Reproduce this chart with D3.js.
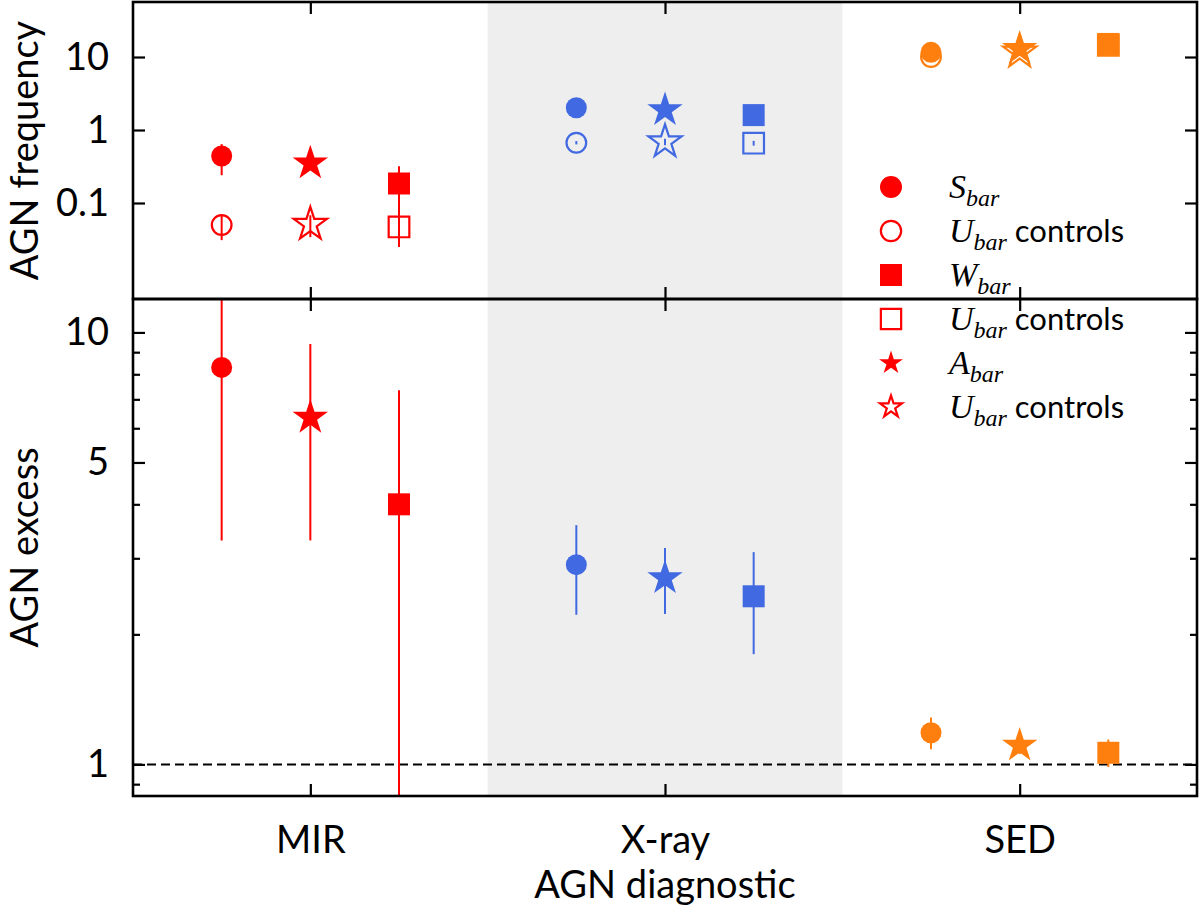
<!DOCTYPE html>
<html>
<head>
<meta charset="utf-8">
<script src="https://cdn.jsdelivr.net/npm/d3@7"></script>
<style>
  body { margin: 0; background: #fff; }
  text { font-family: Lato, "DejaVu Sans", sans-serif; fill: #000; }
</style>
</head>
<body>
<div id="chart"></div>
<script>
const W = 1200, H = 912;

// categories on the x axis
const diagnostics = ["MIR", "X-ray", "SED"];
const colors = ["#ff0000", "#4169e1", "#ff7f0e"];

// AGN frequency (top panel), barred samples (filled) and their controls (open)
const freqS = [0.44, 2.02, 11.6];
const freqSErr = [0.2, 0.15, 0.6];
const freqSCtrl = [0.05, 0.67, 10.0];
const freqSCtrlErr = [0.019, 0.035, 0.3];

const freqA = [0.35, 1.88, 13.0];
const freqAErr = [0.06, 0.15, 0.6];
const freqACtrl = [0.051, 0.69, 11.7];
const freqACtrlErr = [0.017, 0.07, 0.3];

const freqW = [0.185, 1.6, 15.1];
const freqWErr = [0.135, 0.2, 0.8];
const freqWCtrl = [0.047, 0.66, 14.5];
const freqWCtrlErr = [0.022, 0.05, 0.4];

// AGN excess (bottom panel)
const excessS = [8.3, 2.9, 1.184];
const excessSErr = [5.0, 0.68, 0.1];
const excessA = [6.35, 2.7, 1.106];
const excessAErr = [3.05, 0.47, 0.05];
const excessW = [4.0, 2.45, 1.064];
const excessWErr = [3.35, 0.65, 0.078];

const freqTicks = [0.1, 1, 10];
const excessTicks = [1, 5, 10];
const excessMinor = [0.9, 2, 3, 4, 6, 7, 8, 9];

const left = 133, right = 1197;
const top1 = 2, bot1 = 299, top2 = 299, bot2 = 796;

const x = d3.scaleLinear().domain([-0.5, 2.5]).range([left, right]);
const yTop = d3.scaleLog().domain([0.00484, 56.7]).range([bot1, top1]);
const yBot = d3.scaleLog().domain([0.845, 11.95]).range([bot2, top2]);

const svg = d3.select("#chart").append("svg")
    .attr("width", W)
    .attr("height", H);

const defs = svg.append("defs");
defs.append("clipPath").attr("id", "clipTop").append("rect")
    .attr("x", left).attr("y", top1).attr("width", right - left).attr("height", bot1 - top1);
defs.append("clipPath").attr("id", "clipBot").append("rect")
    .attr("x", left).attr("y", top2).attr("width", right - left).attr("height", bot2 - top2);

// grey band behind the X-ray column
svg.append("rect")
    .attr("x", x(0.5)).attr("y", top1)
    .attr("width", x(1.5) - x(0.5)).attr("height", bot2 - top1)
    .attr("fill", "#eeeeee");

// dashed line at excess = 1
svg.append("line")
    .attr("x1", left).attr("x2", right)
    .attr("y1", yBot(1)).attr("y2", yBot(1))
    .attr("stroke", "#000").attr("stroke-width", 2)
    .attr("stroke-dasharray", "9,5");

const shapes = {
    circle: { type: d3.symbolCircle, size: Math.PI * 10.5 * 10.5 },
    square: { type: d3.symbolSquare, size: 22 * 22 },
    star: { type: d3.symbolStar, size: 18.6 * 18.6 / 0.8908130915292852 }
};

function drawSeries(g, y, vals, errs, shape, offset, filled) {
    const pts = vals.map((v, i) => ({ v, e: errs[i], i }));
    g.selectAll(null)
        .data(pts)
        .join("line")
        .attr("x1", d => x(d.i + offset)).attr("x2", d => x(d.i + offset))
        .attr("y1", d => y(Math.max(d.v - d.e, 1e-4)))
        .attr("y2", d => y(d.v + d.e))
        .attr("stroke", d => colors[d.i])
        .attr("stroke-width", 2);
    g.selectAll(null)
        .data(pts)
        .join("path")
        .attr("d", d3.symbol().type(shapes[shape].type).size(filled ? shapes[shape].size : shapes[shape].size * 0.88))
        .attr("transform", d => `translate(${x(d.i + offset)},${y(d.v)})`)
        .attr("fill", d => filled ? colors[d.i] : "none")
        .attr("stroke", d => colors[d.i])
        .attr("stroke-width", filled ? 0 : 2.2);
}

const gTop = svg.append("g").attr("clip-path", "url(#clipTop)");
drawSeries(gTop, yTop, freqSCtrl, freqSCtrlErr, "circle", -0.25, false);
drawSeries(gTop, yTop, freqACtrl, freqACtrlErr, "star", 0, false);
drawSeries(gTop, yTop, freqWCtrl, freqWCtrlErr, "square", 0.25, false);
drawSeries(gTop, yTop, freqS, freqSErr, "circle", -0.25, true);
drawSeries(gTop, yTop, freqA, freqAErr, "star", 0, true);
drawSeries(gTop, yTop, freqW, freqWErr, "square", 0.25, true);

const gBot = svg.append("g").attr("clip-path", "url(#clipBot)");
drawSeries(gBot, yBot, excessS, excessSErr, "circle", -0.25, true);
drawSeries(gBot, yBot, excessA, excessAErr, "star", 0, true);
drawSeries(gBot, yBot, excessW, excessWErr, "square", 0.25, true);

// axes with inward ticks
function styleAxis(g) {
    g.select(".domain").remove();
    g.selectAll(".tick line").attr("stroke", "#000").attr("stroke-width", 2.2);
    g.selectAll(".tick text").style("font-size", "38px").style("font-family", "Lato, sans-serif");
}
const fmtTop = d => d < 1 ? "0.1" : String(d);

svg.append("g").attr("transform", `translate(${left},0)`)
    .call(d3.axisLeft(yTop).tickValues(freqTicks).tickFormat(fmtTop).tickSize(-12).tickPadding(24))
    .call(styleAxis);
svg.append("g").attr("transform", `translate(${right},0)`)
    .call(d3.axisRight(yTop).tickValues(freqTicks).tickFormat("").tickSize(-12))
    .call(styleAxis);

svg.append("g").attr("transform", `translate(${left},0)`)
    .call(d3.axisLeft(yBot).tickValues(excessTicks).tickFormat(d3.format("d")).tickSize(-12).tickPadding(24))
    .call(styleAxis);
svg.append("g").attr("transform", `translate(${left},0)`)
    .call(d3.axisLeft(yBot).tickValues(excessMinor).tickFormat("").tickSize(-7))
    .call(styleAxis);
svg.append("g").attr("transform", `translate(${right},0)`)
    .call(d3.axisRight(yBot).tickValues(excessTicks).tickFormat("").tickSize(-12))
    .call(styleAxis);
svg.append("g").attr("transform", `translate(${right},0)`)
    .call(d3.axisRight(yBot).tickValues(excessMinor).tickFormat("").tickSize(-7))
    .call(styleAxis);

const xIdx = [0, 1, 2];
svg.append("g").attr("transform", `translate(0,${top1})`)
    .call(d3.axisTop(x).tickValues(xIdx).tickFormat("").tickSize(-12)).call(styleAxis);
svg.append("g").attr("transform", `translate(0,${bot1})`)
    .call(d3.axisBottom(x).tickValues(xIdx).tickFormat("").tickSize(-12)).call(styleAxis);
svg.append("g").attr("transform", `translate(0,${top2})`)
    .call(d3.axisTop(x).tickValues(xIdx).tickFormat("").tickSize(-12)).call(styleAxis);
svg.append("g").attr("transform", `translate(0,${bot2})`)
    .call(d3.axisBottom(x).tickValues(xIdx).tickFormat(i => diagnostics[i]).tickSize(-12).tickPadding(30))
    .call(styleAxis);

// frames
[[top1, bot1], [top2, bot2]].forEach(([t, b]) => {
    svg.append("rect")
        .attr("x", left).attr("y", t)
        .attr("width", right - left).attr("height", b - t)
        .attr("fill", "none").attr("stroke", "#000").attr("stroke-width", 2.6);
});

// axis labels
svg.append("text")
    .attr("transform", `translate(38,${(top1 + bot1) / 2}) rotate(-90)`)
    .attr("text-anchor", "middle")
    .style("font-size", "38px")
    .text("AGN frequency");
svg.append("text")
    .attr("transform", `translate(38,${(top2 + bot2) / 2}) rotate(-90)`)
    .attr("text-anchor", "middle")
    .style("font-size", "38px")
    .text("AGN excess");
svg.append("text")
    .attr("x", x(1)).attr("y", 898)
    .attr("text-anchor", "middle")
    .style("font-size", "38px")
    .text("AGN diagnostic");

// legend
const legendNames = ["S", "U", "W", "U", "A", "U"];
const legendShapes = ["circle", "circle", "square", "square", "star", "star"];
const legendFilled = [true, false, true, false, true, false];
const legendSizes = { circle: Math.PI * 11 * 11, square: 22 * 22, star: 12.5 * 12.5 / 0.8908130915292852 };

const leg = svg.append("g");
const rows = leg.selectAll("g")
    .data(legendNames.map((n, i) => ({ n, i })))
    .join("g")
    .attr("transform", d => `translate(891,${187 + d.i * 44})`);
rows.append("path")
    .attr("d", d => d3.symbol().type(shapes[legendShapes[d.i]].type)
        .size(legendFilled[d.i] ? legendSizes[legendShapes[d.i]] : legendSizes[legendShapes[d.i]] * 0.85)())
    .attr("fill", d => legendFilled[d.i] ? colors[0] : "none")
    .attr("stroke", colors[0])
    .attr("stroke-width", d => legendFilled[d.i] ? 0 : 2.2);
const lt = rows.append("text")
    .attr("x", 58).attr("y", 11)
    .style("font-size", "31px");
lt.append("tspan")
    .style("font-family", "'Liberation Serif', serif")
    .style("font-style", "italic")
    .style("font-size", "34px")
    .text(d => d.n);
lt.append("tspan")
    .attr("dy", 8)
    .style("font-family", "'Liberation Serif', serif")
    .style("font-style", "italic")
    .style("font-size", "24px")
    .text("bar");
lt.append("tspan")
    .attr("dy", -8)
    .text(d => d.n === "U" ? " controls" : "");
</script>
</body>
</html>
